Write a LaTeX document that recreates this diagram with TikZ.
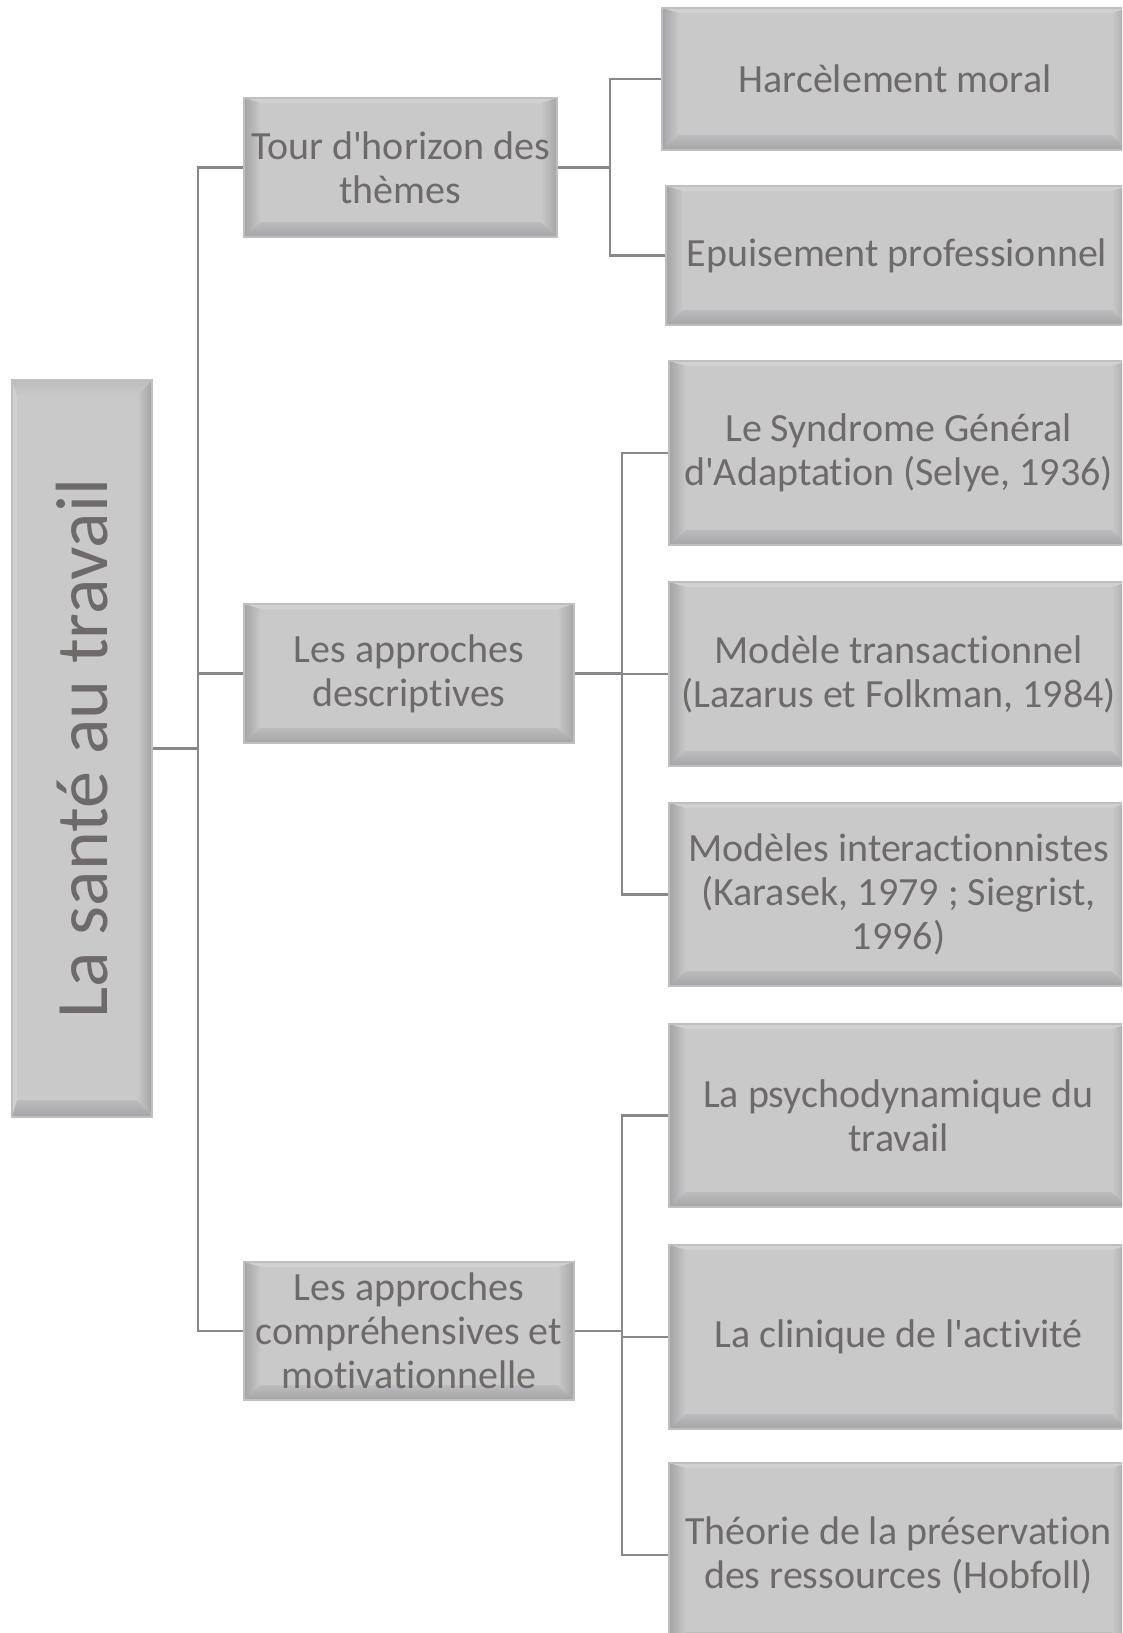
\documentclass[tikz,border=0pt]{standalone}
\usepackage{fontspec}
\newfontfamily\cf{Carlito}[Ligatures=NoCommon]
\usetikzlibrary{calc}
\definecolor{boxfill}{HTML}{C9C9C9}
\definecolor{boxedge}{HTML}{BFBFBF}
\definecolor{txt}{HTML}{6E6A6A}
\definecolor{lnk}{HTML}{88888C}
\definecolor{bvdark}{HTML}{A4A4A7}
\definecolor{bvmid}{HTML}{BCBCBE}
\definecolor{bvlight}{HTML}{D1D1D1}
\tikzset{
  bevelh/.style={path picture={
    \coordinate (bsw) at (path picture bounding box.south west);
    \coordinate (bne) at (path picture bounding box.north east);
    \fill[bvlight] let \p1=(bsw),\p2=(bne) in
      (\x1,\y2) -- (\x2,\y2) -- (\x2-16pt,\y2-5pt) -- (\x1+17pt,\y2-5pt) -- cycle;
    \shade[left color=bvdark,right color=boxfill] let \p1=(bsw),\p2=(bne) in
      (\x1,\y1) -- (\x1+17pt,\y1+15pt) -- (\x1+17pt,\y2-5pt) -- (\x1,\y2) -- cycle;
    \shade[top color=bvmid,bottom color=bvdark] let \p1=(bsw),\p2=(bne) in
      (\x1,\y1) -- (\x2,\y1) -- (\x2-16pt,\y1+15pt) -- (\x1+17pt,\y1+15pt) -- cycle;
    \shade[left color=boxfill,right color=bvdark] let \p1=(bsw),\p2=(bne) in
      (\x2,\y1) -- (\x2,\y2) -- (\x2-16pt,\y2-5pt) -- (\x2-16pt,\y1+15pt) -- cycle;
  }},
  bevelv/.style={path picture={
    \coordinate (bsw) at (path picture bounding box.south west);
    \coordinate (bne) at (path picture bounding box.north east);
    \fill[bvlight] let \p1=(bsw),\p2=(bne) in
      (\x1,\y1) -- (\x1,\y2) -- (\x1+5pt,\y2-16pt) -- (\x1+5pt,\y1+17pt) -- cycle;
    \shade[top color=bvmid,bottom color=bvdark] let \p1=(bsw),\p2=(bne) in
      (\x1,\y1) -- (\x2,\y1) -- (\x2-15pt,\y1+17pt) -- (\x1+5pt,\y1+17pt) -- cycle;
    \shade[left color=boxfill,right color=bvdark] let \p1=(bsw),\p2=(bne) in
      (\x2,\y1) -- (\x2,\y2) -- (\x2-15pt,\y2-16pt) -- (\x2-15pt,\y1+17pt) -- cycle;
    \shade[bottom color=boxfill,top color=bvmid] let \p1=(bsw),\p2=(bne) in
      (\x1,\y2) -- (\x2,\y2) -- (\x2-15pt,\y2-16pt) -- (\x1+5pt,\y2-16pt) -- cycle;
  }},
  box/.style={rectangle, draw=boxedge, line width=2pt, fill=boxfill, text=txt,
    align=center, inner sep=0pt, font=\cf\fontsize{40}{44}\selectfont},
  hbox/.style={box, bevelh},
  vbox/.style={box, bevelv, font=\cf\fontsize{74}{80}\selectfont},
  link/.style={draw=lnk, line width=2.2pt}
}
\begin{document}
\begin{tikzpicture}[x=1pt,y=-1pt]
\useasboundingbox (0,0) rectangle (1122,1633);
\clip (0,0) rectangle (1122,1633);
\fill[white] (0,0) rectangle (1122,1633);

\node[vbox, minimum width=140pt, minimum height=737pt] (root) at (82,748.5) {\rotatebox{90}{La santé au travail}};

\node[hbox, minimum width=313pt, minimum height=139pt] (tour) at (400.5,167.5) {Tour d'horizon des\\thèmes};
\node[hbox, minimum width=330pt, minimum height=139pt] (desc) at (409,673.5) {Les approches\\descriptives};
\node[hbox, minimum width=330pt, minimum height=138pt] (comp) at (409,1331) {Les approches\\compréhensives et\\motivationnelle};

\node[hbox, minimum width=466pt, minimum height=142pt] (harc) at (895,79) {Harcèlement moral};
\node[hbox, minimum width=462pt, minimum height=139pt] (epuis) at (897,255.5) {Epuisement professionnel};
\node[hbox, minimum width=459pt, minimum height=184pt] (synd) at (898.5,453) {Le Syndrome Général\\d'Adaptation (Selye, 1936)};
\node[hbox, minimum width=459pt, minimum height=184pt] (trans) at (898.5,674) {Modèle transactionnel\\(Lazarus et Folkman, 1984)};
\node[hbox, minimum width=459pt, minimum height=183pt] (inter) at (898.5,894.5) {Modèles interactionnistes\\(Karasek, 1979 ; Siegrist,\\1996)};
\node[hbox, minimum width=459pt, minimum height=183pt] (psych) at (898.5,1115.5) {La psychodynamique du\\travail};
\node[hbox, minimum width=459pt, minimum height=184pt] (clin) at (898.5,1337) {La clinique de l'activité};
\node[hbox, minimum width=459pt, minimum height=184pt] (theo) at (898.5,1555) {Théorie de la préservation\\des ressources (Hobfoll)};

\coordinate (trunk) at (198,748.5);
\coordinate (tj) at (610,167.5);
\coordinate (dj) at (622,673.5);
\coordinate (cj) at (622,1331);

\draw[link] (root.east) -- (trunk);
\draw[link] (trunk) |- (tour.west);
\draw[link] (trunk) |- (desc.west);
\draw[link] (trunk) |- (comp.west);

\draw[link] (tour.east) -- (tj);
\draw[link] (tj) |- (harc.west);
\draw[link] (tj) |- (epuis.west);

\draw[link] (desc.east) -- (dj);
\draw[link] (dj) |- (synd.west);
\draw[link] (dj) |- (trans.west);
\draw[link] (dj) |- (inter.west);

\draw[link] (comp.east) -- (cj);
\draw[link] (cj) |- (psych.west);
\draw[link] (cj) |- (clin.west);
\draw[link] (cj) |- (theo.west);
\end{tikzpicture}
\end{document}
